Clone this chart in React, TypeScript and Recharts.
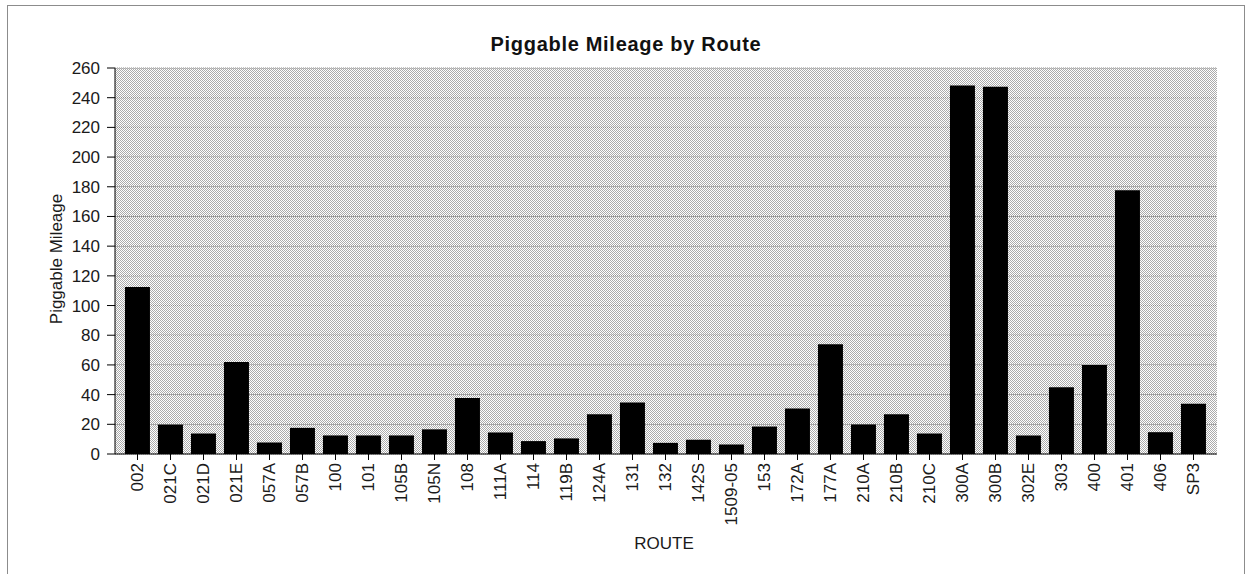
import React from "react";
import {
  BarChart,
  Bar,
  CartesianGrid,
  XAxis,
  YAxis,
  Label,
} from "recharts";

const routes = [
  "002", "021C", "021D", "021E", "057A", "057B", "100", "101", "105B", "105N",
  "108", "111A", "114", "119B", "124A", "131", "132", "142S", "1509-05", "153",
  "172A", "177A", "210A", "210B", "210C", "300A", "300B", "302E", "303", "400",
  "401", "406", "SP3",
];
const mileage = [
  112.5, 19.8, 13.8, 62, 7.8, 17.6, 12.5, 12.5, 12.5, 16.6,
  37.8, 14.5, 8.7, 10.5, 26.8, 34.7, 7.5, 9.6, 6.4, 18.5,
  30.7, 74, 19.9, 26.7, 13.8, 248.2, 247.3, 12.5, 45, 60,
  177.6, 14.7, 33.9,
];
const yTicks = [0, 20, 40, 60, 80, 100, 120, 140, 160, 180, 200, 220, 240, 260];

const FONT = "Arial, 'Liberation Sans', sans-serif";

const data = routes.map((route, i) => ({ route, miles: mileage[i] }));

const RouteTick = (props: any) => {
  const { x, y, payload } = props;
  return (
    <text
      x={x}
      y={y}
      transform={`rotate(-90 ${x} ${y})`}
      textAnchor="end"
      dominantBaseline="central"
      fontSize={17}
      fontFamily={FONT}
      fill="#1a1a1a"
    >
      {payload.value}
    </text>
  );
};

const App = () => {
  return (
    <div
      style={{
        position: "absolute",
        left: 7,
        top: 5,
        width: 1236,
        height: 575,
        border: "1px solid #8c8c8c",
        boxSizing: "content-box",
        background: "#fff",
      }}
    >
      <div
        style={{
          position: "absolute",
          top: 28,
          left: 0,
          width: 1236,
          textAlign: "center",
          fontFamily: FONT,
          fontWeight: "bold",
          fontSize: 20,
          letterSpacing: 0.7,
          lineHeight: "20px",
          color: "#111",
        }}
      >
        Piggable Mileage by Route
      </div>
      <BarChart
        width={1236}
        height={575}
        data={data}
        margin={{ top: 62, right: 27, left: 47, bottom: 37 }}
        barCategoryGap="12%"
      >
        <defs>
          <pattern id="dots" x="0" y="0" width="2" height="2" patternUnits="userSpaceOnUse">
            <rect x="0" y="0" width="2" height="2" fill="#ffffff" />
            <rect x="0" y="0" width="1" height="1" fill="#ababab" />
            <rect x="1" y="1" width="1" height="1" fill="#ababab" />
          </pattern>
        </defs>
        <CartesianGrid
          vertical={false}
          fill="url(#dots)"
          fillOpacity={1}
          stroke="#8a8a8a"
          strokeDasharray="1 1"
        />
        <XAxis
          dataKey="route"
          interval={0}
          padding={{ left: 6, right: 7 }}
          tick={<RouteTick />}
          tickSize={6}
          tickMargin={3}
          height={90}
          axisLine={{ stroke: "#000" }}
          tickLine={{ stroke: "#000" }}
        >
          <Label
            content={(p: any) => {
              const vb = p.viewBox;
              return (
                <text
                  x={vb.x + vb.width / 2 - 2}
                  y={vb.y + 95}
                  textAnchor="middle"
                  fontSize={17}
                  fontFamily={FONT}
                  fill="#1a1a1a"
                >
                  ROUTE
                </text>
              );
            }}
          />
        </XAxis>
        <YAxis
          domain={[0, 260]}
          ticks={yTicks}
          width={60}
          tickSize={8}
          tickMargin={7}
          interval={0}
          axisLine={{ stroke: "#000" }}
          tickLine={{ stroke: "#000" }}
          tick={{ fill: "#1a1a1a", fontSize: 17, fontFamily: FONT }}
        >
          <Label
            content={(p: any) => {
              const vb = p.viewBox;
              const cx = vb.x + 1;
              const cy = vb.y + vb.height / 2 - 2;
              return (
                <text
                  x={cx}
                  y={cy}
                  transform={`rotate(-90 ${cx} ${cy})`}
                  textAnchor="middle"
                  dominantBaseline="central"
                  fontSize={17}
                  fontFamily={FONT}
                  fill="#1a1a1a"
                >
                  Piggable Mileage
                </text>
              );
            }}
          />
        </YAxis>
        <YAxis
          yAxisId="edge"
          orientation="right"
          width={0}
          domain={[0, 260]}
          tick={false}
          tickLine={false}
          axisLine={{ stroke: "#8a8a8a" }}
        />
        <Bar dataKey="miles" fill="#000" isAnimationActive={false} />
      </BarChart>
    </div>
  );
};

export default App;
